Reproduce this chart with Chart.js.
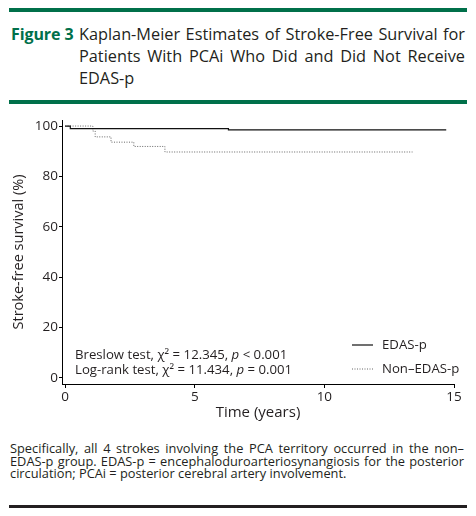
<!DOCTYPE html>
<html>
<head>
<meta charset="utf-8">
<script src="https://cdn.jsdelivr.net/npm/chart.js@4.4.1/dist/chart.umd.min.js"></script>
<style>
  body { margin: 0; background: #fff; font-family: "Open Sans", sans-serif; color: #231f20; }
  #page { position: relative; width: 476px; height: 516px; overflow: hidden; }
  .rule { position: absolute; left: 9px; width: 458px; }
  .green { background: #00704a; height: 4px; }
  .black { background: #231f20; height: 3px; }
  #fig { position: absolute; left: 11px; top: 23px; font-weight: 700; color: #00704a; font-size: 16px; line-height: 22px; letter-spacing: -0.1px; }
  #title { position: absolute; left: 79px; top: 23px; width: 386px; font-size: 16.3px; line-height: 22px; }
  #caption { position: absolute; left: 10px; top: 442px; width: 454px; font-size: 12.8px; line-height: 12.6px; }
  .j { text-align: justify; text-align-last: justify; white-space: nowrap; }
  #wrap { position: absolute; left: 0; top: 100px; width: 476px; height: 330px; }
</style>
</head>
<body>
<div id="page">
  <div class="rule green" style="top:8px"></div>
  <div id="fig">Figure 3</div>
  <div id="title">
    <div class="j">Kaplan-Meier Estimates of Stroke-Free Survival for</div>
    <div class="j">Patients With PCAi Who Did and Did Not Receive</div>
    <div>EDAS-p</div>
  </div>
  <div class="rule green" style="top:100px"></div>
  <div id="wrap"><canvas id="kmChart"></canvas></div>
  <div id="caption">
    <div class="j">Specifically, all 4 strokes involving the PCA territory occurred in the non–</div>
    <div class="j">EDAS-p group. EDAS-p = encephaloduroarteriosynangiosis for the posterior</div>
    <div>circulation; PCAi = posterior cerebral artery involvement.</div>
  </div>
  <div class="rule black" style="top:505px"></div>
</div>
<script>
// Données (temps en années, survie en %)
const edasTimes = [0, 0.2, 6.3, 14.7];
const edasSurvival = [100, 99.0, 98.5, 98.5];
const nonEdasTimes = [0, 1.07, 1.16, 1.77, 2.65, 3.85, 13.4];
const nonEdasSurvival = [100, 98.0, 95.7, 93.6, 91.9, 89.7, 89.7];

const xTicks = [0, 5, 10, 15];
const yTicks = [0, 20, 40, 60, 80, 100];

const seriesLabels = ['EDAS-p', 'Non–EDAS-p'];
const testLines = [
    [['Breslow test, χ² = 12.345, ', false], ['p', true], [' < 0.001', false]],
    [['Log-rank test, χ² = 11.434, ', false], ['p', true], [' = 0.001', false]]
];

const textColor = '#231f20';
const fontFamily = '"Open Sans", sans-serif';
const noteSize = 13.2;

function toPoints(times, values) {
    return times.map((t, i) => ({ x: t, y: values[i] }));
}

// Plugin pour les tests statistiques et la légende dans la zone du graphique
const annotationsPlugin = {
    id: 'annotations',
    afterDraw(chart) {
        const ctx = chart.ctx;
        const area = chart.chartArea;
        ctx.save();
        ctx.fillStyle = textColor;
        ctx.textBaseline = 'middle';

        // Tests
        testLines.forEach((runs, i) => {
            let x = area.left + 13;
            const y = area.bottom - 29 + i * 15;
            runs.forEach(([txt, italic]) => {
                ctx.font = (italic ? 'italic ' : '') + noteSize + 'px ' + fontFamily;
                ctx.fillText(txt, x, y);
                x += ctx.measureText(txt).width;
            });
        });

        // Légende
        ctx.font = noteSize + 'px ' + fontFamily;
        chart.data.datasets.forEach((ds, i) => {
            const y = area.bottom - 39 + i * 24;
            const x0 = area.right - 102;
            ctx.beginPath();
            ctx.strokeStyle = ds.borderColor;
            ctx.lineWidth = ds.borderWidth;
            ctx.setLineDash(ds.borderDash || []);
            ctx.moveTo(x0, y);
            ctx.lineTo(x0 + 21, y);
            ctx.stroke();
            ctx.setLineDash([]);
            ctx.fillText(seriesLabels[i], x0 + 30, y);
        });
        ctx.restore();
    }
};

const ctx = document.getElementById('kmChart').getContext('2d');
new Chart(ctx, {
    type: 'line',
    data: {
        datasets: [
            {
                label: seriesLabels[0],
                data: toPoints(edasTimes, edasSurvival),
                borderColor: '#111111',
                borderWidth: 1.2,
                stepped: 'before',
                pointRadius: 0,
                fill: false
            },
            {
                label: seriesLabels[1],
                data: toPoints(nonEdasTimes, nonEdasSurvival),
                borderColor: '#666666',
                borderWidth: 1,
                borderDash: [1, 1.5],
                stepped: 'before',
                pointRadius: 0,
                fill: false
            }
        ]
    },
    options: {
        responsive: true,
        maintainAspectRatio: false,
        animation: false,
        layout: { padding: { top: 20, right: 22, left: 0, bottom: 0 } },
        plugins: { legend: { display: false }, tooltip: { enabled: false } },
        scales: {
            x: {
                type: 'linear',
                min: -0.12,
                max: 15,
                afterBuildTicks: scale => { scale.ticks = xTicks.map(v => ({ value: v })); },
                afterFit: scale => { scale.height = 46; },
                grid: { drawOnChartArea: false, drawTicks: true, tickLength: 4, color: '#000' },
                border: { display: true, color: '#000', width: 1 },
                ticks: { color: textColor, font: { family: fontFamily, size: 13.5 }, padding: 1, maxRotation: 0 },
                title: {
                    display: true,
                    text: 'Time (years)',
                    color: textColor,
                    font: { family: fontFamily, size: 15 },
                    padding: { top: 2, bottom: 8 }
                }
            },
            y: {
                type: 'linear',
                min: -2.4,
                max: 102.4,
                afterBuildTicks: scale => { scale.ticks = yTicks.map(v => ({ value: v })); },
                afterFit: scale => { scale.width = 62; },
                grid: { drawOnChartArea: false, drawTicks: true, tickLength: 3, color: '#000' },
                border: { display: true, color: '#000', width: 1 },
                ticks: { color: textColor, font: { family: fontFamily, size: 13.5 }, padding: 1 },
                title: {
                    display: true,
                    text: 'Stroke-free survival (%)',
                    color: textColor,
                    font: { family: fontFamily, size: 14.5 },
                    padding: { top: 10, bottom: 0 }
                }
            }
        }
    },
    plugins: [annotationsPlugin]
});
</script>
</body>
</html>
